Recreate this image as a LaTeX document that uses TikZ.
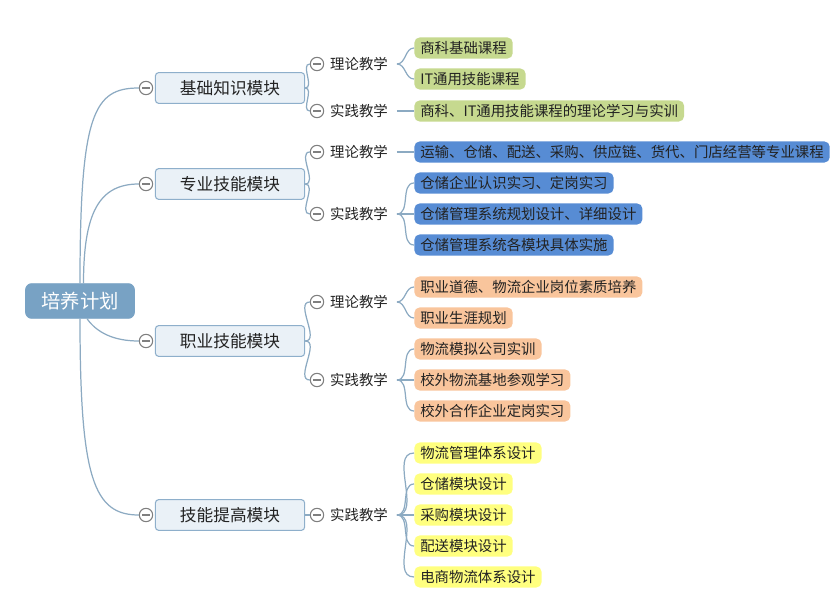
\documentclass[tikz,border=0pt]{standalone}
\usepackage{fontspec}
\setmainfont{Noto Sans CJK SC}
\definecolor{linie}{HTML}{8CAAC2}
\definecolor{knopfgrau}{HTML}{7F7F7F}
\definecolor{wurzelblau}{HTML}{78A2C4}
\definecolor{modulhell}{HTML}{EAF1F7}
\definecolor{modulrand}{HTML}{8EAFCB}
\definecolor{gruen}{HTML}{C6D98F}
\definecolor{blau}{HTML}{578CD4}
\definecolor{orangehell}{HTML}{F9C59C}
\definecolor{gelb}{HTML}{FFFF7F}
\definecolor{schrift}{HTML}{222222}
\tikzset{
  verb/.style={linie,line width=0.7pt},
  wurzel/.style={fill=wurzelblau,draw=wurzelblau,rounded corners=3.5pt,text=white,
    minimum width=62pt,minimum height=19.8pt,font=\fontsize{11pt}{13pt}\selectfont},
  modul/.style={fill=modulhell,draw=modulrand,line width=0.6pt,rounded corners=2pt,text=schrift,
    minimum width=85pt,minimum height=17.6pt,font=\fontsize{9.5pt}{11pt}\selectfont},
  knopf/.style={circle,draw=knopfgrau,fill=white,line width=0.6pt,minimum size=7.6pt,inner sep=0pt,
    path picture={\draw[knopfgrau,line width=0.6pt] ([xshift=1.6pt]path picture bounding box.west)
      -- ([xshift=-1.6pt]path picture bounding box.east);}},
  lehre/.style={text=schrift,inner xsep=5pt,inner ysep=1pt,font=\fontsize{8.2pt}{10pt}\selectfont},
  blatt/.style={anchor=west,rounded corners=3pt,text=schrift,inner xsep=3.4pt,inner ysep=0pt,
    minimum height=12pt,font=\fontsize{8.2pt}{10pt}\selectfont},
}
\begin{document}
\begin{tikzpicture}[x=0.02cm,y=-0.02cm]
  \useasboundingbox (0,0) rectangle (839,611);
  % Wurzel
  \node[wurzel] (wz) at (80,301) {培养计划};
  % Module
  \node[modul] (m1) at (230,88) {基础知识模块};
  \node[modul] (m2) at (230,184) {专业技能模块};
  \node[modul] (m3) at (230,341) {职业技能模块};
  \node[modul] (m4) at (230,515) {技能提高模块};
  \node[knopf] (k1) at (146,88) {};
  \node[knopf] (k2) at (146,184) {};
  \node[knopf] (k3) at (146,341) {};
  \node[knopf] (k4) at (146,515) {};
  \draw[verb] (wz.north) .. controls +(0,-170) and +(-45,0) .. (k1.west);
  \draw[verb] ([xshift=2pt]wz.north) .. controls +(0,-70) and +(-40,0) .. (k2.west);
  \draw[verb] ([xshift=4pt]wz.south) .. controls +(10,14) and +(-25,0) .. (k3.west);
  \draw[verb] (wz.south) .. controls +(0,160) and +(-45,0) .. (k4.west);
  % Lehrformen
  \node[knopf] (k1a) at (317,64) {};
  \node[lehre] (t1a) at (359,64) {理论教学};
  \node[knopf] (k1b) at (317,111) {};
  \node[lehre] (t1b) at (359,111) {实践教学};
  \node[knopf] (k2a) at (317,152) {};
  \node[lehre] (t2a) at (359,152) {理论教学};
  \node[knopf] (k2b) at (317,214) {};
  \node[lehre] (t2b) at (359,214) {实践教学};
  \node[knopf] (k3a) at (317,302) {};
  \node[lehre] (t3a) at (359,302) {理论教学};
  \node[knopf] (k3b) at (317,380) {};
  \node[lehre] (t3b) at (359,380) {实践教学};
  \node[knopf] (k4b) at (317,515) {};
  \node[lehre] (t4b) at (359,515) {实践教学};
  \draw[verb] (m1.east) to[out=0,in=180] (k1a.west);
  \draw[verb] (m1.east) to[out=0,in=180] (k1b.west);
  \draw[verb] (m2.east) to[out=0,in=180] (k2a.west);
  \draw[verb] (m2.east) to[out=0,in=180] (k2b.west);
  \draw[verb] (m3.east) to[out=0,in=180] (k3a.west);
  \draw[verb] (m3.east) to[out=0,in=180] (k3b.west);
  \draw[verb] (m4.east) -- (k4b.west);
  % Inhalte: Basiswissen
  \node[blatt,fill=gruen] (g1) at (414,48) {商科基础课程};
  \node[blatt,fill=gruen] (g2) at (414,79) {IT通用技能课程};
  \node[blatt,fill=gruen] (g3) at (414,111) {商科、IT通用技能课程的理论学习与实训};
  \draw[verb] (t1a.east) to[out=0,in=180] (g1.west);
  \draw[verb] (t1a.east) to[out=0,in=180] (g2.west);
  \draw[verb] (t1b.east) -- (g3.west);
  % Inhalte: Fachkompetenz
  \node[blatt,fill=blau] (b1) at (414,152) {运输、仓储、配送、采购、供应链、货代、门店经营等专业课程};
  \node[blatt,fill=blau] (b2) at (414,183) {仓储企业认识实习、定岗实习};
  \node[blatt,fill=blau] (b3) at (414,214) {仓储管理系统规划设计、详细设计};
  \node[blatt,fill=blau] (b4) at (414,245) {仓储管理系统各模块具体实施};
  \draw[verb] (t2a.east) -- (b1.west);
  \draw[verb] (t2b.east) to[out=0,in=180] (b2.west);
  \draw[verb] (t2b.east) -- (b3.west);
  \draw[verb] (t2b.east) to[out=0,in=180] (b4.west);
  % Inhalte: Berufskompetenz
  \node[blatt,fill=orangehell] (o1) at (414,287) {职业道德、物流企业岗位素质培养};
  \node[blatt,fill=orangehell] (o2) at (414,318) {职业生涯规划};
  \node[blatt,fill=orangehell] (o3) at (414,349) {物流模拟公司实训};
  \node[blatt,fill=orangehell] (o4) at (414,380) {校外物流基地参观学习};
  \node[blatt,fill=orangehell] (o5) at (414,411) {校外合作企业定岗实习};
  \draw[verb] (t3a.east) to[out=0,in=180] (o1.west);
  \draw[verb] (t3a.east) to[out=0,in=180] (o2.west);
  \draw[verb] (t3b.east) to[out=0,in=180] (o3.west);
  \draw[verb] (t3b.east) -- (o4.west);
  \draw[verb] (t3b.east) to[out=0,in=180] (o5.west);
  % Inhalte: Vertiefung
  \node[blatt,fill=gelb] (y1) at (414,453) {物流管理体系设计};
  \node[blatt,fill=gelb] (y2) at (414,484) {仓储模块设计};
  \node[blatt,fill=gelb] (y3) at (414,515) {采购模块设计};
  \node[blatt,fill=gelb] (y4) at (414,546) {配送模块设计};
  \node[blatt,fill=gelb] (y5) at (414,577) {电商物流体系设计};
  \draw[verb] (t4b.east) to[out=0,in=180] (y1.west);
  \draw[verb] (t4b.east) to[out=0,in=180] (y2.west);
  \draw[verb] (t4b.east) -- (y3.west);
  \draw[verb] (t4b.east) to[out=0,in=180] (y4.west);
  \draw[verb] (t4b.east) to[out=0,in=180] (y5.west);
\end{tikzpicture}
\end{document}
